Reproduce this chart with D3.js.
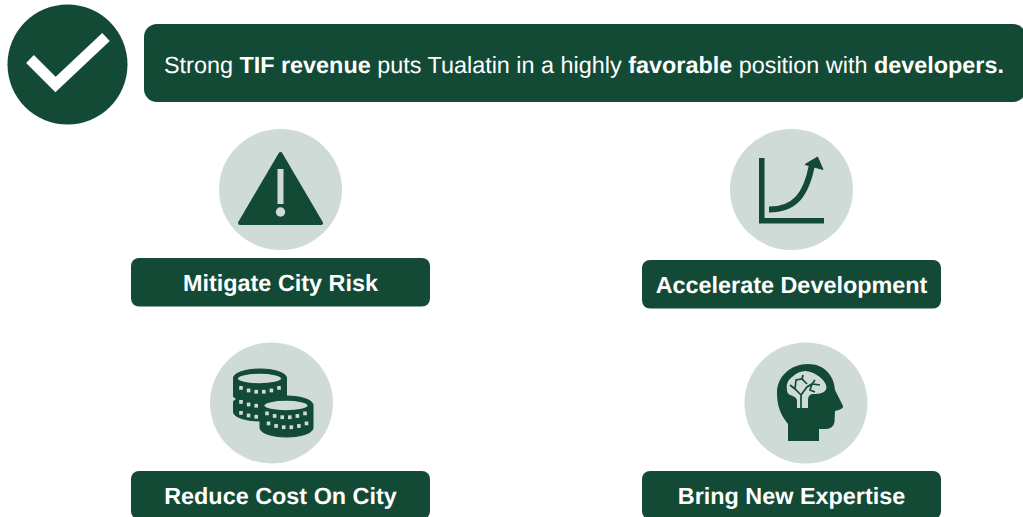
<!DOCTYPE html>
<html>
<head>
<meta charset="utf-8">
<script src="https://cdn.jsdelivr.net/npm/d3@7"></script>
<style>
html, body { margin: 0; padding: 0; background: #fff; overflow: hidden; }
text { font-family: "Liberation Sans", Arial, sans-serif; text-rendering: geometricPrecision; }
</style>
</head>
<body>
<script>
// text content
const bannerWords = ["Strong ", "TIF revenue", " puts Tualatin in a highly ", "favorable", " position with ", "developers."];
const bannerBold = [false, true, false, true, false, true];
const cardLabels = ["Mitigate City Risk", "Accelerate Development", "Reduce Cost On City", "Bring New Expertise"];
const cardIcons = ["warning", "growth", "coins", "brain"];

const dark = "#124a35";
const light = "#cfdbd7";

const width = 1023;
const height = 517;

const svg = d3.select("body")
    .append("svg")
    .attr("width", width)
    .attr("height", height);

// check mark
svg.append("circle")
    .attr("cx", 67.5).attr("cy", 64.5).attr("r", 60)
    .attr("fill", dark);

svg.append("path")
    .attr("d", "M30,59 L55.5,84.5 L106,37")
    .attr("fill", "none")
    .attr("stroke", "#fff")
    .attr("stroke-width", 11);

// top banner
svg.append("rect")
    .attr("x", 144).attr("y", 24)
    .attr("width", 882).attr("height", 78)
    .attr("rx", 13)
    .attr("fill", dark);

svg.append("text")
    .attr("x", 164).attr("y", 73)
    .attr("font-size", 23.4)
    .attr("fill", "#fff")
    .style("white-space", "pre")
    .selectAll("tspan")
    .data(bannerWords)
    .enter()
    .append("tspan")
    .attr("font-weight", (d, i) => bannerBold[i] ? "bold" : "normal")
    .text(d => d);

// where each card sits
const circleX = [280.5, 791.5, 271.5, 806];
const circleY = [189.5, 189.5, 403, 403];
const boxX = [131, 642, 131, 642];
const boxY = [258, 260, 471, 471];

const cards = svg.selectAll("g.card")
    .data(cardLabels)
    .enter()
    .append("g")
    .attr("class", "card");

cards.append("ellipse")
    .attr("cx", (d, i) => circleX[i])
    .attr("cy", (d, i) => circleY[i])
    .attr("rx", 61.5)
    .attr("ry", 60.5)
    .attr("fill", light);

cards.append("rect")
    .attr("x", (d, i) => boxX[i])
    .attr("y", (d, i) => boxY[i])
    .attr("width", 299)
    .attr("height", 48.5)
    .attr("rx", 8)
    .attr("fill", dark);

cards.append("text")
    .attr("x", (d, i) => boxX[i] + 149.5)
    .attr("y", (d, i) => boxY[i] + 33)
    .attr("text-anchor", "middle")
    .attr("font-size", 23.4)
    .attr("font-weight", "bold")
    .attr("fill", "#fff")
    .text(d => d);

// icons, drawn in page coordinates
const icons = {};

icons.warning = function(g) {
    g.append("path")
        .attr("d", "M280.5,154 L321,223 L240,223 Z")
        .attr("fill", dark)
        .attr("stroke", dark)
        .attr("stroke-width", 4)
        .attr("stroke-linejoin", "round");
    g.append("rect")
        .attr("x", 277.5).attr("y", 169)
        .attr("width", 6).attr("height", 35)
        .attr("fill", light);
    g.append("circle")
        .attr("cx", 280.5).attr("cy", 212).attr("r", 4.7)
        .attr("fill", light);
};

icons.growth = function(g) {
    g.append("path")
        .attr("d", "M759,158 H764.5 V218 H824 V223.5 H759 Z")
        .attr("fill", dark);
    g.append("path")
        .attr("d", "M769,209.5 C795,209.5 806,195 812,165")
        .attr("fill", "none")
        .attr("stroke", dark)
        .attr("stroke-width", 6);
    g.append("path")
        .attr("d", "M805,164.5 L817.5,157 L823,169.5 Z")
        .attr("fill", dark)
        .attr("stroke", dark)
        .attr("stroke-width", 1);
};

// a stack of coins: outer body and the hole on top
function coinStack(g, cx, top, depth) {
    const rx = 26.5;
    const ry = 9;
    g.append("path")
        .attr("d", `M${cx - rx},${top} A${rx},${ry} 0 0 1 ${cx + rx},${top} V${top + depth} A${rx},${ry} 0 0 1 ${cx - rx},${top + depth} Z`)
        .attr("fill", dark)
        .attr("stroke", dark)
        .attr("stroke-width", 1)
        .attr("stroke-linejoin", "round");
    g.append("ellipse")
        .attr("cx", cx - 0.5).attr("cy", top + 0.5)
        .attr("rx", 21.5).attr("ry", 4.7)
        .attr("fill", light);
}

// row of small notches along a coin edge
function notches(g, cx, y) {
    const xs = d3.range(6).map(i => cx - 19 + i * 7.6);
    g.selectAll(null)
        .data(xs)
        .enter()
        .append("rect")
        .attr("x", d => d - 1.8)
        .attr("y", d => y - 4 * Math.pow((d - cx) / 19, 2))
        .attr("width", 3.6)
        .attr("height", 3.8)
        .attr("fill", light);
}

icons.coins = function(g) {
    coinStack(g, 260, 378, 34);
    notches(g, 260, 390);
    notches(g, 260, 404);
    notches(g, 260, 415);

    // waist between the coins on the left side
    g.append("path")
        .attr("d", "M232,396 L236,399 L232,402 Z")
        .attr("fill", light);

    coinStack(g, 286.5, 405, 23);
    notches(g, 286, 415.5);
    notches(g, 287.5, 425.5);
};

icons.brain = function(g) {
    g.append("path")
        .attr("d", "M788,441 V424 C780,414 777,405 777,393 C777,376 791,364 808,364 C824,364 834,375 835,390 L843,406 Q844,409 835,411 L834.5,422 Q833,429 826,429 L819,429 V441 Z")
        .attr("fill", dark);
    g.append("path")
        .attr("d", "M787,390 C786,384 788,380 792,377 C796,373 801,371 805,371 C811,371 818,375 822,379 C826,383 828,388 825,391 C822,394 816,394 812,394 C809,395 808,397 808,400 V408 H797 V400 C796,397 793,396 790,395 C788,394 787,392 787,390 Z")
        .attr("fill", light);
    g.append("path")
        .attr("d", "M801,408 V395 L807,387 L812,384 L820,385 M812,384 L815,380 M801,395 L795,389 L790,385 M795,389 L796,380 L802,379 L807,384 M802,379 L803,375 M812,384 L810,390 L815,392")
        .attr("fill", "none")
        .attr("stroke", dark)
        .attr("stroke-width", 1.7);
};

cards.each(function(d, i) {
    icons[cardIcons[i]](d3.select(this));
});
</script>
</body>
</html>
